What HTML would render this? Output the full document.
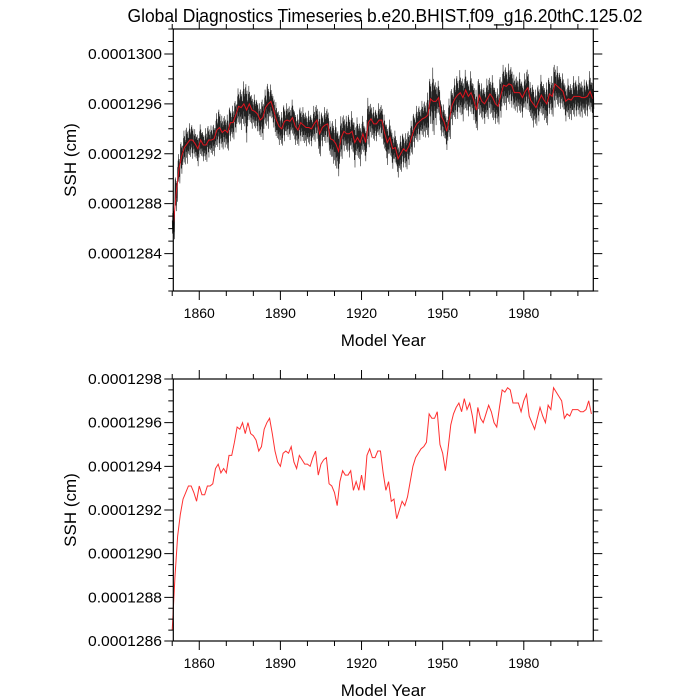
<!DOCTYPE html>
<html><head><meta charset="utf-8"><style>
html,body{margin:0;padding:0;background:#fff;}
svg{display:block;font-family:"Liberation Sans",sans-serif;}
</style></head><body>
<svg id="chart" width="700" height="700" viewBox="0 0 700 700" xmlns="http://www.w3.org/2000/svg">
<text x="385" y="22" font-size="18" text-anchor="middle" textLength="515" lengthAdjust="spacingAndGlyphs">Global Diagnostics Timeseries b.e20.BHIST.f09_g16.20thC.125.02</text>
</svg>
<script>
const years = [];
for (let y = 1850; y <= 2005; y++) years.push(y);
const annualSSH = [1286.5,1288.9,1290.8,1291.8,1292.5,1292.8,1293.1,1293.1,1292.8,1292.4,
1293.1,1292.7,1292.7,1293.1,1293.1,1293.2,1293.9,1294.1,1293.7,1293.9,
1293.7,1294.5,1294.5,1295.1,1295.8,1295.7,1296.0,1295.5,1296.0,1295.5,
1295.4,1295.2,1294.7,1294.9,1295.7,1296.0,1296.2,1295.5,1294.7,1294.2,
1294.0,1294.6,1294.7,1294.6,1294.9,1294.2,1293.9,1294.5,1294.3,1294.1,
1294.1,1294.0,1294.4,1294.7,1293.6,1294.1,1294.3,1294.4,1293.2,1293.1,
1292.8,1292.2,1293.3,1293.8,1293.6,1293.6,1293.8,1292.9,1293.3,1292.9,
1293.6,1292.9,1294.5,1294.8,1294.4,1294.4,1294.7,1294.7,1293.7,1292.9,
1293.3,1292.4,1292.5,1291.6,1292.0,1292.4,1292.2,1292.6,1293.3,1294.0,
1294.4,1294.6,1294.8,1294.9,1295.1,1296.4,1296.2,1296.2,1296.5,1295.0,
1294.6,1293.8,1294.8,1295.9,1296.4,1296.7,1296.9,1296.5,1297.1,1296.6,
1296.9,1296.3,1295.5,1296.7,1296.2,1296.0,1296.4,1296.8,1296.5,1296.0,
1295.8,1296.7,1297.5,1297.4,1297.6,1297.5,1296.9,1296.9,1296.9,1296.5,
1297.0,1297.3,1296.3,1296.0,1295.7,1296.2,1296.7,1296.3,1296.0,1296.8,
1296.6,1297.6,1297.4,1297.2,1297.0,1296.2,1296.4,1296.3,1296.6,1296.6,
1296.6,1296.5,1296.5,1296.6,1297.0,1296.4];
const monthlySpread = [1.5,1.5,1.3,1.4,1.5,1.6,1.5,1.5,1.3,1.4,
1.4,1.3,1.5,1.4,1.3,1.4,1.5,1.8,1.5,1.4,
1.6,1.5,1.5,1.4,1.6,1.8,2.0,2.6,1.6,1.5,
1.5,1.4,1.5,1.8,1.6,2.0,1.5,1.4,1.6,1.5,
1.5,1.6,1.5,1.5,1.6,1.5,1.4,1.5,1.6,1.5,
1.5,1.4,1.6,1.5,2.0,1.5,1.6,1.5,1.6,1.9,
2.2,2.0,1.9,1.6,1.6,1.9,1.8,2.0,1.8,1.9,
1.6,1.5,2.2,1.5,1.5,1.4,1.5,1.5,1.6,1.8,
1.6,1.6,1.5,1.5,1.6,1.5,1.6,1.5,1.5,1.5,
1.6,1.5,1.6,1.6,2.0,2.0,3.0,1.9,1.5,1.6,
1.5,1.5,1.8,1.6,1.8,1.9,2.0,1.9,1.8,1.6,
1.9,1.6,1.8,1.6,1.6,1.6,1.8,1.6,2.0,1.6,
1.6,1.8,1.8,1.9,1.8,1.8,1.6,1.6,1.8,1.6,
1.6,1.8,1.6,1.9,1.6,1.6,1.8,1.6,1.9,1.6,
1.8,1.9,1.8,1.6,1.6,1.6,1.8,1.6,1.8,1.6,
1.8,1.6,1.6,1.6,1.8,1.6];
const monthlyShape = [0.1,-0.6,0.5,-0.3,0.9,-0.8,0.2,0.6,-0.5,0.3,-0.9,0.4,
-0.2,0.7,-0.4,0.8,-0.7,0.1,0.5,-1.0,0.6,-0.3,0.3,-0.5];
const topYTicks = [1284,1288,1292,1296,1300];
const botYTicks = [1286,1288,1290,1292,1294,1296,1298];
const xTicks = [1860,1890,1920,1950,1980];

const svg = document.getElementById('chart');
const NS = 'http://www.w3.org/2000/svg';
function mk(tag, attrs, parent) {
  const e = document.createElementNS(NS, tag);
  for (const k in attrs) e.setAttribute(k, attrs[k]);
  (parent || svg).appendChild(e);
  return e;
}
const X0 = 173.3, X1 = 593.3, XMIN = 1850.4, XMAX = 2005.7;
const xs = v => X0 + (v - XMIN) / (XMAX - XMIN) * (X1 - X0);

function panel(name, top, bot, ymin, ymax, yTicks, minorStep) {
  const ys = v => bot - (v - ymin) / (ymax - ymin) * (bot - top);
  const g = mk('g', {});
  
  
  return {g, ys, top, bot, ymin, ymax, yTicks, minorStep};
}
function axes(p, name) {
  const {g, ys, top, bot, ymin, ymax, yTicks, minorStep} = p;
  const frame = mk('rect', {x: X0, y: top, width: X1 - X0, height: bot - top, fill: 'none', stroke: '#000', 'stroke-width': 1.2}, g);
  
  
  let d = '';
  for (let v = 1850; v <= 2005; v += 10) {
    const x = xs(v), L = (v - 1860) % 30 === 0 ? 9 : 5;
    d += `M${x},${top}v${-L}M${x},${bot}v${L}`;
  }
  for (let v = Math.ceil(ymin / minorStep) * minorStep; v <= ymax + 1e-9; v += minorStep) {
    const y = ys(v), major = yTicks.some(t => Math.abs(t - v) < 1e-6), L = major ? 9 : 5;
    d += `M${X0},${y}h${-L}M${X1},${y}h${L}`;
  }
  const t = mk('path', {d, stroke: '#000', 'stroke-width': 1, fill: 'none'}, g);
  
  
  yTicks.forEach(v => {
    const tx = mk('text', {x: 162, y: ys(v) + 5, 'font-size': 15, 'text-anchor': 'end', textLength: 74, lengthAdjust: 'spacingAndGlyphs'}, g);
    
    
    tx.textContent = (v * 1e-7).toFixed(7);
  });
  xTicks.forEach(v => {
    const tx = mk('text', {x: xs(v), y: bot + 27, 'font-size': 14, 'text-anchor': 'middle'}, g);
    
    
    tx.textContent = v;
  });
  const yl = mk('text', {x: 0, y: 0, 'font-size': 17, 'text-anchor': 'middle', transform: `translate(76,${(top + bot) / 2}) rotate(-90)`}, g);
  
  
  yl.textContent = 'SSH (cm)';
  const xl = mk('text', {x: (X0 + X1) / 2, y: bot + 55, 'font-size': 17, 'text-anchor': 'middle'}, g);
  
  
  xl.textContent = 'Model Year';
}

const p1 = panel('monthly-panel', 29, 291, 1281, 1302, topYTicks, 1);
let md = '';
years.forEach((yr, i) => {
  for (let m = 0; m < 12; m++) {
    const sh = monthlyShape[(i % 2) * 12 + m];
    const v = annualSSH[i] + monthlySpread[i] * sh;
    const x = xs(yr + m / 12);
    md += (md ? 'L' : 'M') + x.toFixed(2) + ',' + p1.ys(v).toFixed(2);
  }
});
const ml = mk('path', {d: md, stroke: '#222', 'stroke-width': 0.6, fill: 'none'}, p1.g);


let ad1 = '';
years.forEach((yr, i) => { ad1 += (i ? 'L' : 'M') + xs(yr + 0.5).toFixed(2) + ',' + p1.ys(annualSSH[i]).toFixed(2); });
const al1 = mk('path', {d: ad1, stroke: '#e0141e', 'stroke-width': 1, fill: 'none'}, p1.g);


axes(p1, 'top-panel');

const p2 = panel('annual-panel', 379, 641, 1286, 1298, botYTicks, 0.5);
let ad2 = '';
years.forEach((yr, i) => { ad2 += (i ? 'L' : 'M') + xs(yr).toFixed(2) + ',' + p2.ys(annualSSH[i]).toFixed(2); });
const al2 = mk('path', {d: ad2, stroke: '#ff3030', 'stroke-width': 1, fill: 'none'}, p2.g);


axes(p2, 'bottom-panel');
</script>
</body></html>
